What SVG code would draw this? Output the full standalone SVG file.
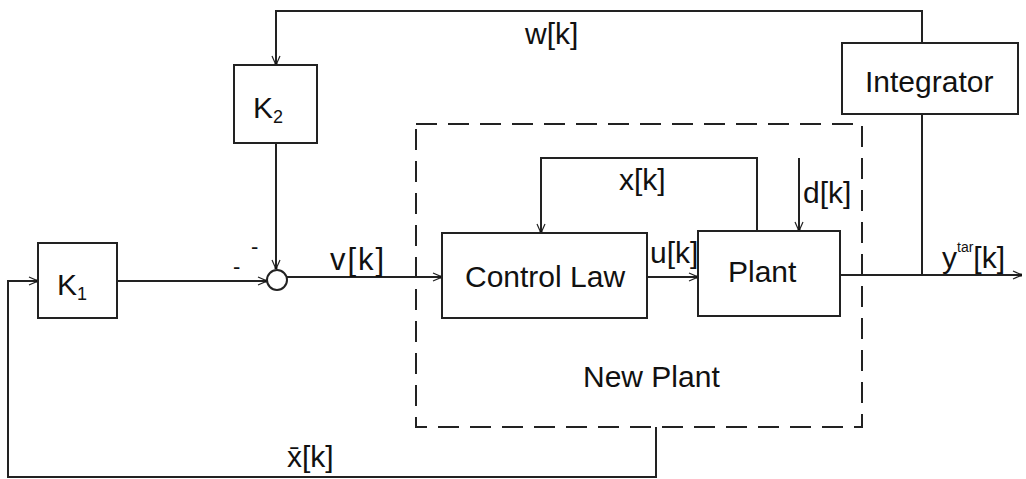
<svg xmlns="http://www.w3.org/2000/svg" width="1026" height="479" viewBox="0 0 1026 479">
<style>
.box{fill:#fff;stroke:#222;stroke-width:2}
.w{fill:none;stroke:#222;stroke-width:2}
.dash{fill:none;stroke:#222;stroke-width:2;stroke-dasharray:21 11}
text{font-family:"Liberation Sans",Arial,sans-serif;font-size:30px;fill:#111}
.sub{font-size:18px}
.sup{font-size:14px}
</style>
<defs>
<marker id="ah" viewBox="0 0 10 10" refX="10" refY="5" markerWidth="10" markerHeight="10" markerUnits="userSpaceOnUse" orient="auto">
<path d="M1,1 L10,5 L1,9" fill="none" stroke="#222" stroke-width="1.2"/>
<circle cx="9" cy="5" r="1.5" fill="#111"/>
</marker>
</defs>
<g id="new-plant">
<rect class="dash" x="416" y="124" width="446" height="303"/>
<text x="583" y="387">New Plant</text>
</g>
<g id="connectors">
<path class="w" d="M922,43 V11 H276 V65" marker-end="url(#ah)"/>
<path class="w" d="M276,143 V269" marker-end="url(#ah)"/>
<path class="w" d="M117,281 H267" marker-end="url(#ah)"/>
<path class="w" d="M287,277 H442" marker-end="url(#ah)"/>
<path class="w" d="M647,277 H698" marker-end="url(#ah)"/>
<path class="w" d="M840,275 H1022" marker-end="url(#ah)"/>
<path class="w" d="M922,275 V114"/>
<path class="w" d="M757,231 V158 H541 V233" marker-end="url(#ah)"/>
<path class="w" d="M799,158 V231" marker-end="url(#ah)"/>
<path class="w" d="M656,427 V477 H8 V281 H38" marker-end="url(#ah)"/>
</g>
<g id="K2"><rect class="box" x="234" y="65" width="83" height="78"/><text x="253" y="118">K<tspan class="sub" dy="5">2</tspan></text></g>
<g id="K1"><rect class="box" x="38" y="243" width="79" height="75"/><text x="57" y="295">K<tspan class="sub" dy="5">1</tspan></text></g>
<g id="sum"><circle class="box" cx="277" cy="280" r="10"/></g>
<g id="integrator"><rect class="box" x="842" y="43" width="176" height="71"/><text x="865" y="92">Integrator</text></g>
<g id="control-law"><rect class="box" x="442" y="233" width="205" height="85"/><text x="465" y="287">Control Law</text></g>
<g id="plant"><rect class="box" x="698" y="231" width="142" height="85"/><text x="728" y="282">Plant</text></g>
<g id="labels">
<text x="525" y="44">w[k]</text>
<text x="619" y="190">x[k]</text>
<text x="803" y="203">d[k]</text>
<text x="330" y="270" style="font-size:31px;letter-spacing:2px">v[k]</text>
<text x="650" y="263">u[k]</text>
<text x="942" y="268">y<tspan class="sup" dy="-16">tar</tspan><tspan dy="16">[k]</tspan></text>
<text x="287" y="467">x̄[k]</text>
<text x="233" y="274" style="font-size:22px">-</text>
<text x="251" y="254" style="font-size:22px">-</text>
</g>
</svg>
